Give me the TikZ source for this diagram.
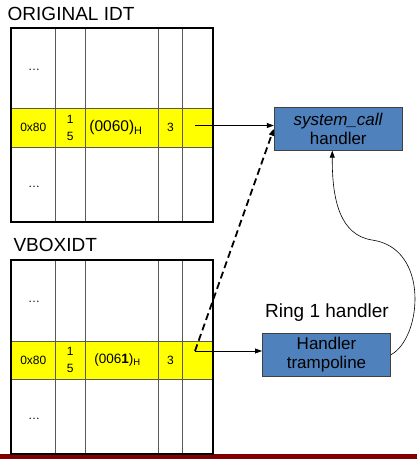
\documentclass[tikz,border=0pt]{standalone}
\usepackage{fontspec}
\setmainfont{Liberation Sans}
\usetikzlibrary{arrows.meta}
\definecolor{idtyellow}{RGB}{255,255,0}
\definecolor{boxblue}{RGB}{79,129,189}
\definecolor{barred}{RGB}{128,0,0}
\tikzstyle{handler}=[draw=black!75,line width=1pt,fill=boxblue,minimum width=128pt,minimum height=43pt,inner sep=0pt,align=center,font=\fontsize{17}{19}\selectfont]
\tikzstyle{title}=[anchor=base west,inner sep=0pt,font=\fontsize{19}{21}\selectfont]
\tikzstyle{cell}=[inner sep=0pt,align=center,font=\fontsize{12}{17}\selectfont]
\tikzstyle{grid}=[draw=black!65,line width=1pt]
\tikzstyle{frame}=[draw=black,line width=2pt]

\begin{document}
\begin{tikzpicture}[x=1pt,y=-1pt,>={Triangle[length=7pt,width=5pt]}]
\useasboundingbox (0,0) rectangle (417,459);
\fill[barred] (0,453.5) rectangle (417,459);
% original table
\node[title] at (7.5,20.3) (origtitle) {ORIGINAL IDT};
\fill[idtyellow] (11,108) rectangle (213,147);
\draw[grid] (11,108) -- (213,108);
\draw[grid] (11,147) -- (213,147);
\draw[grid] (55.7,28) -- (55.7,222);
\draw[grid] (85,28) -- (85,222);
\draw[grid] (158.3,28) -- (158.3,222);
\draw[grid] (182.7,28) -- (182.7,222);
\draw[frame] (11,28) rectangle (213,222);
\node[cell] at (34,70) (origtop) {\dots};
\node[cell] at (34,187) (origbot) {\dots};
\node[cell] at (33.3,127.5) (orignum) {0x80};
\node[cell] at (70.3,127.5) (origdpl) {1\\5};
\node[cell] at (116,127.5) (origsel) {\fontsize{15.5}{17}\selectfont(0060)\textsubscript{H}};
\node[cell] at (170.5,127.5) (origring) {3};
\coordinate (origgate) at (195,125.5);
% vbox table
\node[title] at (13.3,251) (vboxtitle) {VBOXIDT};
\fill[idtyellow] (11,341) rectangle (213,379);
\draw[grid] (11,341) -- (213,341);
\draw[grid] (11,379) -- (213,379);
\draw[grid] (55.7,260) -- (55.7,454);
\draw[grid] (85,260) -- (85,454);
\draw[grid] (158.3,260) -- (158.3,454);
\draw[grid] (182.7,260) -- (182.7,454);
\draw[frame] (11,260) rectangle (213,454);
\node[cell] at (34,302) (vboxtop) {\dots};
\node[cell] at (34,419) (vboxbot) {\dots};
\node[cell] at (33.3,360) (vboxnum) {0x80};
\node[cell] at (70.3,360) (vboxdpl) {1\\5};
\node[cell] at (117.5,360) (vboxsel) {\fontsize{13.5}{16}\selectfont(006\textbf{1})\textsubscript{H}};
\node[cell] at (170.5,360) (vboxring) {3};
\coordinate (vboxgate) at (195,351);
% handlers
\node[handler] at (338.3,128.7) (syscall) {\textit{system\_call}\\handler};
\node[handler] at (326.5,354.7) (tramp) {Handler\\trampoline};
\node[anchor=base,inner sep=0pt,font=\fontsize{19}{21}\selectfont] at (327,317.5) (ringlabel) {Ring 1 handler};
\draw[->,line width=0.8pt] (origgate) -- (origgate -| syscall.west);
\draw[->,line width=0.8pt] (vboxgate) -- (vboxgate -| tramp.west);
\draw[->,line width=1.8pt,dash pattern=on 7pt off 4pt] (vboxgate) -- (syscall.west);
\draw[->,line width=0.6pt] (tramp.east) .. controls (422,338) and (430,248) .. (372,240)
  .. controls (340,235) and (332,200) .. ([xshift=-6pt]syscall.south);
\end{tikzpicture}
\end{document}
